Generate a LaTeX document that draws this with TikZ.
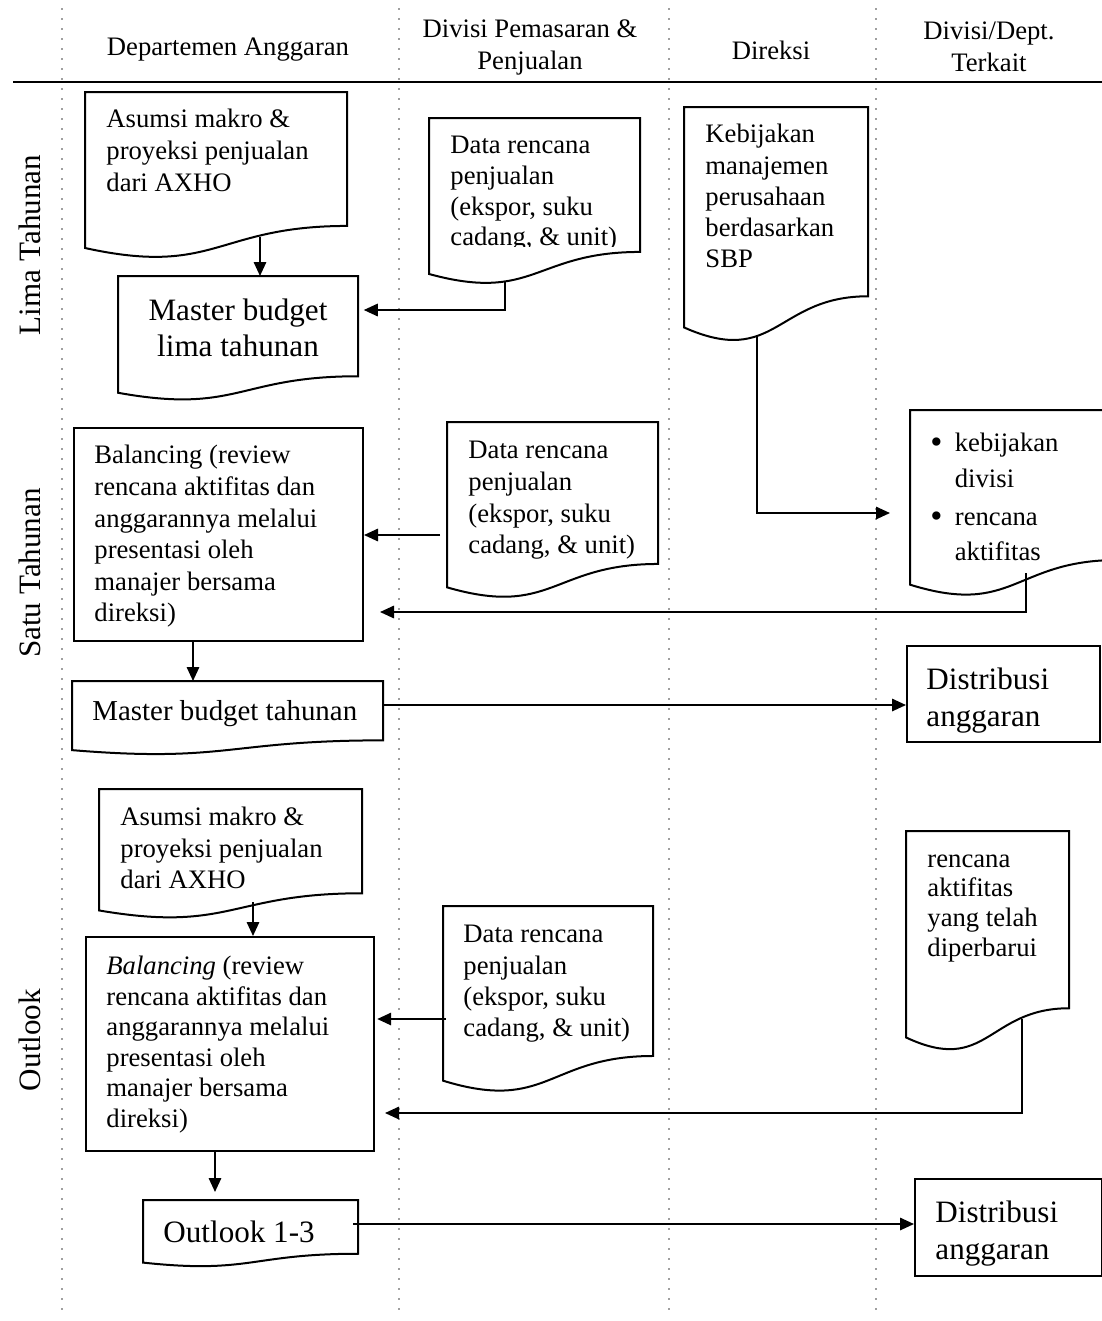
\documentclass[tikz,border=0pt]{standalone}
\usepackage{fontspec}
\usepackage{graphicx}
\setmainfont{Liberation Serif}
\usetikzlibrary{arrows.meta,calc}
\tikzset{
 box/.style={draw, line width=0.9pt},
 lane/.style={draw=gray!75, line width=0.75pt, dash pattern=on 0.75pt off 3.75pt},
 arr/.style={draw, line width=0.8pt, -{Triangle[length=6.3pt,width=5.6pt]}},
 txt/.style={anchor=north west, inner sep=0pt, align=left, font=\fontsize{12}{14.2}\selectfont},
 big/.style={anchor=north west, inner sep=0pt, align=left, font=\fontsize{14}{16.5}\selectfont},
 head/.style={inner sep=0pt, align=center, font=\fontsize{12}{14.4}\selectfont},
 lbl/.style={inner sep=0pt, rotate=90, font=\fontsize{14}{16}\selectfont},
}
\newcommand{\docshape}[5]{%
 \pgfmathsetmacro{\dW}{(#4-#2)*0.45}\pgfmathsetmacro{\dH}{#5*0.45}%
 \pgfmathsetmacro{\dA}{#3+0.802*#5}\pgfmathsetmacro{\dB}{#3+0.934*#5}%
 \pgfmathsetmacro{\dC}{#3+1.107*#5}\pgfmathsetmacro{\dM}{(#2+#4)/2}%
 \node[inner sep=0pt, minimum width=\dW pt, minimum height=\dH pt, anchor=north west] (#1) at (#2,#3) {};%
 \draw[box] (#2,#3) -- (#4,#3) -- (#4,\dA) .. controls (\dM,\dA) and (\dM,\dC) .. (#2,\dB) -- cycle;}
\newcommand{\rectbox}[5]{%
 \pgfmathsetmacro{\rW}{(#4-#2)*0.45}\pgfmathsetmacro{\rH}{(#5-#3)*0.45}%
 \node[box, inner sep=0pt, minimum width=\rW pt, minimum height=\rH pt, anchor=north west] (#1) at (#2,#3) {};}
\newcommand{\bul}{\makebox[11pt][l]{\raisebox{-0.9pt}{\scalebox{1.3}{\textbullet}}}}
\begin{document}
\begin{tikzpicture}[x=0.45pt,y=-0.45pt]
\useasboundingbox (0,0) rectangle (1102,1321);
% swimlane separators
\foreach \x in {62,399,669,876} \draw[lane] (\x,8) -- (\x,1318);
\draw[line width=0.9pt] (13,82) -- (1102,82);
% headers
\node[head] (h1) at (228,50) {Departemen Anggaran};
\node[head] (h2) at (530,47) {Divisi Pemasaran \&\\Penjualan};
\node[head] (h3) at (771,50) {Direksi};
\node[head] (h4) at (989,47) {Divisi/Dept.\\Terkait};
% row labels
\node[lbl] (r1) at (30,245) {Lima Tahunan};
\node[lbl] (r2) at (30,573) {Satu Tahunan};
\node[lbl] (r3) at (30,1040) {Outlook};
% shapes
\docshape{A1}{85}{92}{347}{167}
\docshape{M5}{118}{276}{358}{125}
\docshape{DA}{429}{118}{640}{167}
\docshape{KB}{684}{107}{868}{236}
\rectbox{B1}{73}{427}{362}{640}
\docshape{MT}{72}{681}{383}{74}
\docshape{DB}{447}{422}{658}{177}
\docshape{DV}{910}{410}{1118}{187}
\rectbox{D1}{906}{645}{1099}{741}
\docshape{A2}{99}{789}{362}{130}
\rectbox{B2}{85}{936}{373}{1150}
\docshape{DC}{443}{906}{653}{187}
\docshape{DV2}{906}{831}{1069}{221}
\docshape{OL}{143}{1200}{358}{67}
\rectbox{D2}{914}{1178}{1101}{1275}
% texts
\node[txt] (tA1) at (106,109) {Asumsi makro \&\\proyeksi penjualan\\dari AXHO};
\node[big, anchor=north, align=center, font=\fontsize{14}{16.2}\selectfont] (tM5) at (238,298) {Master budget\\lima tahunan};
\begin{scope}
\clip (430,119) rectangle (639,246);
\node[txt, font=\fontsize{12}{13.8}\selectfont] (tDA) at (450,136) {Data rencana\\penjualan\\(ekspor, suku\\cadang, \& unit)};
\end{scope}
\node[txt, font=\fontsize{12}{14}\selectfont] (tKB) at (705,124) {Kebijakan\\manajemen\\perusahaan\\berdasarkan\\SBP};
\node[txt] (tB1) at (94,445) {Balancing (review\\rencana aktifitas dan\\anggarannya melalui\\presentasi oleh\\manajer bersama\\direksi)};
\node[big, font=\fontsize{13}{15}\selectfont] (tMT) at (92,700) {Master budget tahunan};
\node[txt, font=\fontsize{12}{14.25}\selectfont] (tDB) at (468,441) {Data rencana\\penjualan\\(ekspor, suku\\cadang, \& unit)};
\node[txt, font=\fontsize{12}{15.8}\selectfont] (tDV) at (930,433) {\bul kebijakan\\\hspace*{11pt}divisi\\[1.4pt]\bul rencana\\\hspace*{11pt}aktifitas};
\node[big, font=\fontsize{14}{17}\selectfont] (tD1) at (926,667) {Distribusi\\anggaran};
\node[txt, font=\fontsize{12}{14}\selectfont] (tA2) at (120,807) {Asumsi makro \&\\proyeksi penjualan\\dari AXHO};
\node[txt, font=\fontsize{12}{13.7}\selectfont] (tB2) at (106,956) {\textit{Balancing} (review\\rencana aktifitas dan\\anggarannya melalui\\presentasi oleh\\manajer bersama\\direksi)};
\node[txt, font=\fontsize{12}{14}\selectfont] (tDC) at (463,925) {Data rencana\\penjualan\\(ekspor, suku\\cadang, \& unit)};
\node[txt, font=\fontsize{12}{13.4}\selectfont] (tDV2) at (927,854) {rencana\\aktifitas\\yang telah\\diperbarui};
\node[big] (tOL) at (163,1220) {Outlook 1-3};
\node[big, font=\fontsize{14}{16.7}\selectfont] (tD2) at (935,1200) {Distribusi\\anggaran};
% connectors
\coordinate (c1) at (260,237);
\draw[arr] (c1) -- (c1 |- M5.north);
\coordinate (c2) at (505,282);
\coordinate (c2b) at (505,310);
\draw[arr, shorten >=2.2pt] (c2) -- (c2b) -- (c2b -| M5.east);
\coordinate (c3) at (757,336);
\coordinate (c3b) at (757,513);
\draw[arr, shorten >=9pt] (c3) -- (c3b) -- (c3b -| DV.west);
\coordinate (c4) at (440,535);
\draw[arr] (c4) -- (c4 -| B1.east);
\coordinate (c5) at (1026,573);
\coordinate (c5b) at (1026,612);
\draw[arr, shorten >=7.2pt] (c5) -- (c5b) -- (c5b -| B1.east);
\coordinate (c6) at (193,640);
\draw[arr] (c6) -- (c6 |- MT.north);
\coordinate (c7) at (383,705);
\draw[arr] (c7) -- (c7 -| D1.west);
\coordinate (c8) at (253,902);
\draw[arr] (c8) -- (c8 |- B2.north);
\coordinate (c9) at (446,1019);
\draw[arr, shorten >=1pt] (c9) -- (c9 -| B2.east);
\coordinate (c10) at (1022,1019);
\coordinate (c10b) at (1022,1113);
\draw[arr, shorten >=4.5pt] (c10) -- (c10b) -- (c10b -| B2.east);
\coordinate (c11) at (215,1152);
\draw[arr, shorten >=3.6pt] (c11) -- (c11 |- OL.north);
\coordinate (c12) at (353,1224);
\draw[arr] (c12) -- (c12 -| D2.west);
\end{tikzpicture}
\end{document}
